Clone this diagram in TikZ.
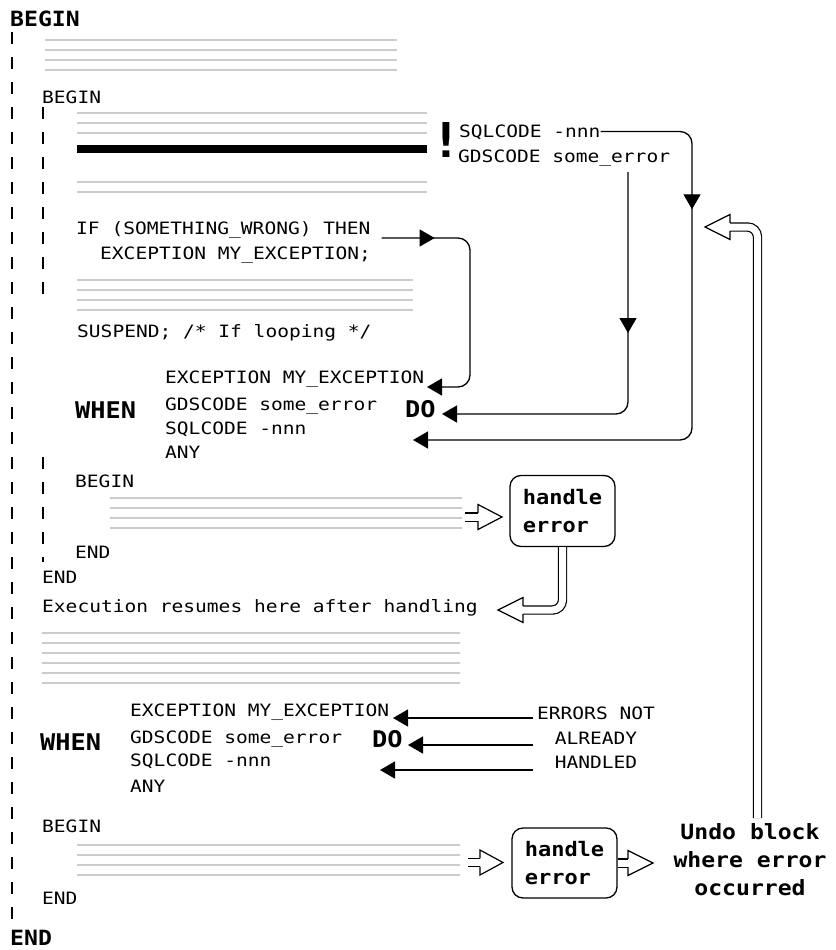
\documentclass[tikz,border=0pt]{standalone}
\usepackage{fontspec}
\usetikzlibrary{arrows.meta,decorations.markings}
\newfontfamily\codefont[FakeStretch=1.15]{DejaVu Sans Mono}
\newfontfamily\kwfont[FakeStretch=1.1]{DejaVu Sans Mono}
\begin{document}
\begin{tikzpicture}[x=1pt,y=-1pt,
 codetxt/.style={font=\codefont\fontsize{17}{24}\selectfont, anchor=west, inner sep=0pt, text height=12.4pt, text depth=0pt},
 kwtxt/.style={font=\kwfont\bfseries\fontsize{23}{28}\selectfont, anchor=west, inner sep=0pt, text height=16.8pt, text depth=0pt},
 bigkw/.style={font=\kwfont\bfseries\fontsize{21}{24}\selectfont, anchor=west, inner sep=0pt, text height=15.3pt, text depth=0pt},
 greyline/.style={draw=gray!40, line width=1.6pt},
 heavyline/.style={line width=7.5pt},
 vdash/.style={line width=2.2pt, dash pattern=on 12pt off 13pt},
 conn/.style={line width=1.3pt, rounded corners=12pt},
 endtip/.style={-{Triangle[length=15pt,width=17pt]}},
 midtip/.style={postaction={decorate,decoration={markings,mark=at position #1 with {\arrow{Triangle[length=15pt,width=17pt]}}}}},
 boxnode/.style={draw, line width=1.3pt, rounded corners=11pt, minimum width=105pt, minimum height=71pt, inner sep=0pt, align=left, font=\kwfont\bfseries\fontsize{20}{28}\selectfont},
 dbl/.style={double, double distance=7pt, line width=1.2pt},
 hh/.style={line width=1.2pt, line join=miter},
]
\fill[white] (0,0) rectangle (835,950);
\useasboundingbox (0,0) rectangle (835,950);

% dashed block markers
\draw[vdash] (12,32) -- (12,924);
\draw[vdash] (43,107) -- (43,294);
\draw[vdash] (43,457) -- (43,562);

% grey code lines
\foreach \y in {40,50,60,70} \draw[greyline] (45,\y) -- (397,\y);
\foreach \y in {113,123,133} \draw[greyline] (77,\y) -- (427,\y);
\draw[heavyline] (77,149) -- (427,149);
\foreach \y in {182,192} \draw[greyline] (77,\y) -- (427,\y);
\foreach \y in {280,290,300,310} \draw[greyline] (77,\y) -- (413,\y);
\foreach \y in {498,508,518,528} \draw[greyline] (110,\y) -- (462,\y);
\foreach \y in {633,643,653,663,673,683} \draw[greyline] (42,\y) -- (460,\y);
\foreach \y in {845,855,865,875} \draw[greyline] (77,\y) -- (460,\y);

% texts
\node[bigkw] (B0) at (10,18.5) {BEGIN};
\node[codetxt] (b1) at (42,97.5) {BEGIN};
\node[font=\kwfont\bfseries\fontsize{48}{48}\selectfont, inner sep=0pt, text height=35pt, text depth=0pt] (bang) at (446,140) {!};
\node[codetxt] (sqlA) at (459,131.5) {SQLCODE -nnn};
\node[codetxt] (gdsA) at (458,156) {GDSCODE some\_error};
\node[codetxt] (ifl) at (76,228) {IF (SOMETHING\_WRONG) THEN};
\node[codetxt] (exc) at (100,253) {EXCEPTION MY\_EXCEPTION;};
\node[codetxt] (susp) at (77,331.5) {SUSPEND; /* If looping */};

\node[kwtxt] (when1) at (75,410) {WHEN};
\node[codetxt] (w1a) at (165,377) {EXCEPTION MY\_EXCEPTION};
\node[codetxt] (w1b) at (165,404) {GDSCODE some\_error};
\node[codetxt] (w1c) at (165,428) {SQLCODE -nnn};
\node[codetxt] (w1d) at (165,452) {ANY};
\node[kwtxt] (do1) at (405,409) {DO};

\node[codetxt] (hb) at (75,481) {BEGIN};
\node[codetxt] (he) at (75,552) {END};
\node[codetxt] (e1) at (42,577) {END};
\node[codetxt] (exec) at (42,606.5) {Execution resumes here after handling};

\node[kwtxt] (when2) at (40,742) {WHEN};
\node[codetxt] (w2a) at (130,710) {EXCEPTION MY\_EXCEPTION};
\node[codetxt] (w2b) at (130,737) {GDSCODE some\_error};
\node[codetxt] (w2c) at (130,760) {SQLCODE -nnn};
\node[codetxt] (w2d) at (130,786) {ANY};
\node[kwtxt] (do2) at (372,739) {DO};
\node[font=\codefont\fontsize{17}{24.5}\selectfont, align=center, inner sep=0pt] (errs) at (596,738) {ERRORS NOT\\ALREADY\\HANDLED};

\node[codetxt] (b2) at (42,826.5) {BEGIN};
\node[codetxt] (e2) at (42,898) {END};
\node[bigkw] (E0) at (10,938) {END};

\node[boxnode] (box1) at (562.5,511) {handle\\error};
\node[boxnode, minimum height=70pt] (box2) at (564.5,863) {handle\\error};
\node[font=\kwfont\bfseries\fontsize{21}{28}\selectfont, align=center, inner sep=0pt] (undo) at (750,860) {Undo block\\where error\\occurred};

% solid connectors
\coordinate (t1c) at (413,440);
\draw[conn, endtip, midtip=164pt] (sqlA.east) -- (692,131.5) -- (692,440) -- (t1c);
\coordinate (g2) at (628,172);
\coordinate (t2) at (442,414);
\draw[conn, endtip, midtip=161pt] (g2) -- (628,414) -- (t2);
\coordinate (t3) at (427,387);
\draw[conn, endtip, midtip=53pt] ([xshift=11pt,yshift=-10pt]ifl.east) -- (470,238) -- (470,387) -- (t3);

\coordinate (s4) at (533,718); \coordinate (t4) at (393,718);
\coordinate (s5) at (533,745); \coordinate (t5) at (408,745);
\coordinate (s6) at (533,770); \coordinate (t6) at (380,770);
\draw[conn, endtip] (s4) -- (t4);
\draw[conn, endtip] (s5) -- (t5);
\draw[conn, endtip] (s6) -- (t6);

% hollow connectors
\coordinate (h1s) at (465,517); \coordinate (h1b) at (478,517);
\draw[dbl] (h1s) -- (h1b);
\draw[hh] ([yshift=4.1pt]h1b) -- ([yshift=12.5pt]h1b) -- ([xshift=24pt]h1b) -- ([yshift=-12.5pt]h1b) -- ([yshift=-4.1pt]h1b);

\coordinate (h2b) at (523,610);
\draw[dbl, rounded corners=10pt] (box1.south) |- (h2b);
\draw[hh] ([yshift=4.1pt]h2b) -- ([yshift=12.5pt]h2b) -- ([xshift=-25pt]h2b) -- ([yshift=-12.5pt]h2b) -- ([yshift=-4.1pt]h2b);

\coordinate (h3s) at (468,862.5); \coordinate (h3b) at (480,862.5);
\draw[dbl] (h3s) -- (h3b);
\draw[hh] ([yshift=4.1pt]h3b) -- ([yshift=12.5pt]h3b) -- ([xshift=23pt]h3b) -- ([yshift=-12.5pt]h3b) -- ([yshift=-4.1pt]h3b);

\coordinate (h4b) at (628,863);
\draw[dbl] (box2.east) -- (h4b);
\draw[hh] ([yshift=4.1pt]h4b) -- ([yshift=12.5pt]h4b) -- ([xshift=25pt]h4b) -- ([yshift=-12.5pt]h4b) -- ([yshift=-4.1pt]h4b);

\coordinate (u0) at (757.5,818);
\coordinate (h5b) at (730,227);
\draw[dbl, rounded corners=10pt] (u0) |- (h5b);
\draw[hh] ([yshift=4.1pt]h5b) -- ([yshift=12.5pt]h5b) -- ([xshift=-25pt]h5b) -- ([yshift=-12.5pt]h5b) -- ([yshift=-4.1pt]h5b);
\end{tikzpicture}
\end{document}
